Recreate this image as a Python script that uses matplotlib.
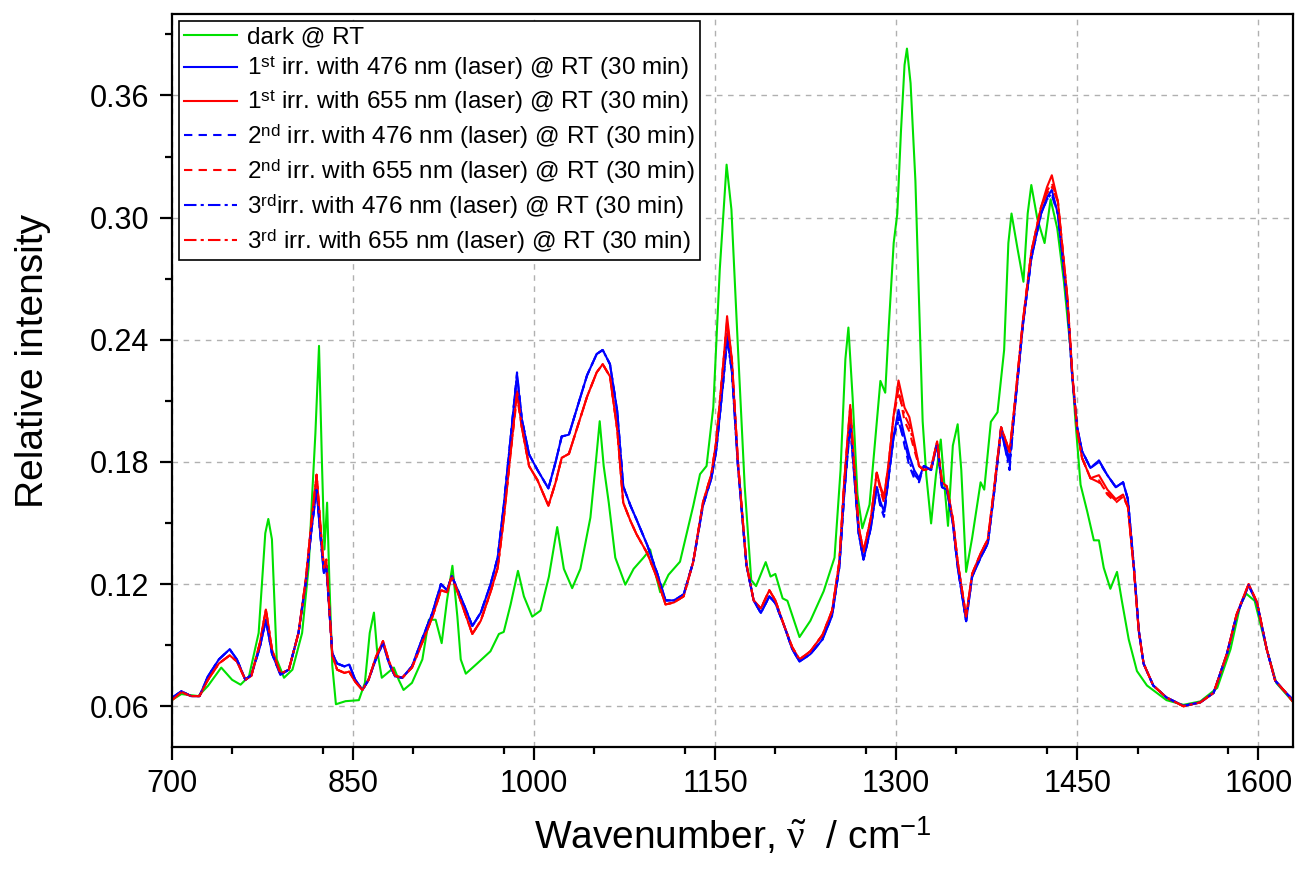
import matplotlib
matplotlib.use("Agg")
import matplotlib.pyplot as plt
from matplotlib.ticker import MultipleLocator

plt.rcParams['font.family'] = ['Liberation Sans', 'DejaVu Sans']
plt.rcParams['mathtext.fontset'] = 'custom'
plt.rcParams['mathtext.rm'] = 'Liberation Sans'
plt.rcParams['mathtext.it'] = 'Liberation Serif'

# wavenumber grid (cm-1) of the dark spectrum
wn_dark = [700, 708, 722, 730, 741, 750, 757, 764, 772, 777.5,
           780, 783, 787, 793, 800, 808, 813.5, 816, 819, 822,
           824.5, 826.5, 828.7, 830.6, 833, 836, 844, 855, 860, 864,
           867.5, 870, 874, 884, 888, 892, 899, 907.6, 913, 918.6,
           923.6, 928, 932.5, 936.6, 939.4, 943.6, 953, 964, 971, 975,
           980.7, 986.8, 991.7, 998.6, 1005.5, 1012.4, 1019.3, 1024.8, 1031.7, 1038.5,
           1046.8, 1051, 1054.5, 1057.8, 1062, 1067.4, 1075.7, 1082.6, 1090.8, 1096.3,
           1100.5, 1104.6, 1111.5, 1121, 1132, 1137.6, 1143, 1148.6, 1154, 1159.6,
           1163.6, 1169, 1174.6, 1180, 1184, 1192, 1196, 1200, 1206, 1210,
           1220, 1229, 1240, 1249, 1254, 1258, 1260.5, 1264, 1268, 1272,
           1278, 1283, 1287, 1291, 1294, 1298, 1301, 1304, 1307, 1309,
           1312, 1316, 1319, 1322, 1325, 1329, 1333, 1337, 1340, 1343,
           1347, 1351, 1354, 1358, 1363, 1370, 1373, 1378.5, 1384, 1389.5,
           1393, 1395.6, 1400.5, 1405.5, 1409, 1412, 1417, 1423, 1428, 1433.5,
           1439, 1444.5, 1448.6, 1452.8, 1458.3, 1463.8, 1468, 1472, 1477.5, 1483,
           1487, 1492.7, 1499.5, 1507.8, 1524, 1538, 1552, 1566, 1577, 1585,
           1590, 1597, 1607, 1615, 1629]
dark = [0.063, 0.066, 0.065, 0.070, 0.079, 0.073, 0.0706, 0.0747, 0.096, 0.145,
        0.152, 0.142, 0.083, 0.074, 0.078, 0.096, 0.129, 0.160, 0.194, 0.237,
        0.178, 0.137, 0.160, 0.121, 0.080, 0.061, 0.0625, 0.063, 0.0715, 0.096,
        0.106, 0.088, 0.074, 0.079, 0.073, 0.068, 0.0715, 0.083, 0.1025, 0.1025,
        0.091, 0.112, 0.129, 0.104, 0.083, 0.076, 0.081, 0.087, 0.0955, 0.0965,
        0.110, 0.1265, 0.114, 0.104, 0.107, 0.1236, 0.148, 0.1275, 0.118, 0.1275,
        0.1527, 0.178, 0.200, 0.178, 0.160, 0.133, 0.1197, 0.1275, 0.133, 0.137,
        0.1255, 0.116, 0.1246, 0.131, 0.1585, 0.174, 0.178, 0.207, 0.275, 0.326,
        0.304, 0.236, 0.168, 0.122, 0.119, 0.1308, 0.1237, 0.125, 0.113, 0.1118,
        0.094, 0.102, 0.1165, 0.133, 0.176, 0.2305, 0.246, 0.2115, 0.164, 0.1474,
        0.159, 0.1925, 0.2198, 0.214, 0.247, 0.2875, 0.302, 0.342, 0.375, 0.383,
        0.366, 0.318, 0.259, 0.200, 0.1735, 0.1498, 0.1735, 0.191, 0.1688, 0.1486,
        0.188, 0.1985, 0.176, 0.126, 0.1427, 0.170, 0.1664, 0.1997, 0.2044, 0.235,
        0.2875, 0.302, 0.285, 0.2685, 0.302, 0.316, 0.2994, 0.2875, 0.309, 0.2947,
        0.2686, 0.2353, 0.1997, 0.1688, 0.1557, 0.1415, 0.1415, 0.128, 0.1177, 0.126,
        0.1118, 0.0928, 0.0773, 0.0702, 0.063, 0.0607, 0.0624, 0.069, 0.088, 0.1094,
        0.1153, 0.1118, 0.088, 0.0714, 0.062]

# wavenumber grid of the irradiated spectra
wn_irr = [700, 708, 716, 723, 730, 739, 748, 754, 761, 766,
          773, 778, 783, 790, 797, 805, 811, 816, 820, 823,
          826, 828, 830, 833, 837, 843, 847, 852, 858, 863,
          869, 875, 880, 885, 891, 899, 908, 916, 923, 928,
          932, 938, 944, 949, 956, 964, 970, 975, 981, 986,
          990, 996, 1003, 1012, 1018, 1023, 1029, 1036, 1044, 1052,
          1057, 1063, 1069, 1074, 1080, 1085, 1094, 1102, 1109, 1116,
          1124, 1132, 1140, 1147, 1151, 1157, 1160, 1164, 1169, 1176,
          1182, 1188, 1195, 1200, 1207, 1214, 1220, 1229, 1239, 1247,
          1253, 1257, 1262, 1265, 1269, 1273, 1279, 1284, 1287, 1290,
          1294, 1298, 1302, 1307, 1311, 1315, 1319, 1323, 1329, 1334,
          1338, 1342, 1347, 1351, 1358, 1363, 1370, 1376, 1381, 1387,
          1394, 1398, 1405, 1412, 1420, 1425, 1429, 1434, 1438, 1442,
          1446, 1450, 1454, 1461, 1468, 1475, 1482, 1488, 1492, 1497,
          1501, 1505, 1513, 1524, 1538, 1552, 1563, 1574, 1582, 1592,
          1599, 1607, 1614, 1623, 1629]

blue_1 = [0.064, 0.0674, 0.065, 0.065, 0.0747, 0.083, 0.088, 0.083, 0.073, 0.0755,
          0.089, 0.1025, 0.086, 0.0755, 0.078, 0.096, 0.1205, 0.148, 0.1664, 0.145,
          0.1255, 0.129, 0.112, 0.086, 0.081, 0.0796, 0.0805, 0.073, 0.068, 0.073,
          0.083, 0.091, 0.081, 0.0747, 0.074, 0.0796, 0.094, 0.106, 0.120, 0.117,
          0.124, 0.1156, 0.107, 0.0994, 0.106, 0.1197, 0.133, 0.1585, 0.1934, 0.2225,
          0.201, 0.1837, 0.176, 0.167, 0.180, 0.1925, 0.1934, 0.207, 0.2225, 0.233,
          0.235, 0.228, 0.205, 0.168, 0.1585, 0.1517, 0.139, 0.1255, 0.112, 0.112,
          0.1149, 0.131, 0.1585, 0.172, 0.1856, 0.2205, 0.243, 0.2245, 0.178, 0.1294,
          0.112, 0.1058, 0.114, 0.1106, 0.100, 0.088, 0.082, 0.0856, 0.0928, 0.1046,
          0.1284, 0.164, 0.200, 0.176, 0.145, 0.132, 0.1474, 0.1676, 0.1605, 0.1557,
          0.1735, 0.1925, 0.2056, 0.1925, 0.183, 0.176, 0.172, 0.178, 0.176, 0.189,
          0.1676, 0.1664, 0.150, 0.1284, 0.1018, 0.1237, 0.133, 0.140, 0.164, 0.197,
          0.1807, 0.2044, 0.247, 0.280, 0.3018, 0.310, 0.3136, 0.3018, 0.280, 0.2567,
          0.221, 0.197, 0.1854, 0.177, 0.1807, 0.1735, 0.1676, 0.170, 0.1617, 0.1284,
          0.0975, 0.0809, 0.0702, 0.0643, 0.0602, 0.0619, 0.0666, 0.0857, 0.1046, 0.1194,
          0.1106, 0.088, 0.0726, 0.0666, 0.063]

red_1 = [0.063, 0.067, 0.065, 0.065, 0.073, 0.081, 0.085, 0.082, 0.073, 0.075,
         0.091, 0.1075, 0.088, 0.076, 0.078, 0.096, 0.122, 0.152, 0.1737, 0.150,
         0.128, 0.132, 0.113, 0.085, 0.078, 0.0764, 0.077, 0.072, 0.068, 0.073,
         0.084, 0.092, 0.082, 0.075, 0.074, 0.079, 0.092, 0.104, 0.117, 0.116,
         0.124, 0.114, 0.104, 0.0955, 0.102, 0.116, 0.128, 0.152, 0.186, 0.2147,
         0.197, 0.178, 0.171, 0.1585, 0.170, 0.182, 0.184, 0.197, 0.212, 0.224,
         0.228, 0.222, 0.196, 0.160, 0.151, 0.1445, 0.135, 0.123, 0.110, 0.111,
         0.114, 0.131, 0.160, 0.174, 0.190, 0.229, 0.2516, 0.230, 0.180, 0.130,
         0.112, 0.108, 0.117, 0.112, 0.100, 0.089, 0.083, 0.087, 0.095, 0.107,
         0.131, 0.170, 0.208, 0.180, 0.148, 0.136, 0.152, 0.1747, 0.168, 0.163,
         0.180, 0.203, 0.220, 0.2067, 0.202, 0.190, 0.178, 0.176, 0.177, 0.190,
         0.170, 0.168, 0.152, 0.131, 0.104, 0.125, 0.135, 0.142, 0.166, 0.197,
         0.185, 0.207, 0.249, 0.283, 0.305, 0.315, 0.3208, 0.308, 0.284, 0.260,
         0.223, 0.196, 0.182, 0.172, 0.1735, 0.1664, 0.1617, 0.164, 0.158, 0.127,
         0.097, 0.081, 0.0702, 0.0643, 0.0600, 0.0619, 0.0666, 0.0857, 0.105, 0.120,
         0.111, 0.088, 0.0726, 0.0666, 0.062]

blue_2 = [0.064, 0.0674, 0.065, 0.065, 0.0747, 0.083, 0.088, 0.083, 0.073, 0.0755,
          0.089, 0.1025, 0.086, 0.0755, 0.078, 0.096, 0.1205, 0.148, 0.1664, 0.145,
          0.1255, 0.129, 0.112, 0.086, 0.081, 0.0796, 0.0805, 0.073, 0.068, 0.073,
          0.083, 0.091, 0.081, 0.0747, 0.074, 0.0796, 0.094, 0.106, 0.120, 0.117,
          0.124, 0.1156, 0.107, 0.0994, 0.106, 0.1197, 0.133, 0.1585, 0.1934, 0.224,
          0.201, 0.1837, 0.176, 0.167, 0.180, 0.1925, 0.1934, 0.207, 0.2225, 0.233,
          0.235, 0.228, 0.205, 0.168, 0.1585, 0.1517, 0.139, 0.1255, 0.112, 0.112,
          0.1149, 0.131, 0.1585, 0.172, 0.1856, 0.2205, 0.241, 0.2245, 0.178, 0.1294,
          0.112, 0.1058, 0.114, 0.1106, 0.100, 0.088, 0.082, 0.0856, 0.0928, 0.1046,
          0.1284, 0.164, 0.198, 0.176, 0.145, 0.132, 0.1474, 0.1676, 0.158, 0.153,
          0.1735, 0.1925, 0.202, 0.188, 0.178, 0.172, 0.170, 0.178, 0.176, 0.189,
          0.1676, 0.1664, 0.150, 0.1284, 0.1018, 0.1237, 0.133, 0.140, 0.164, 0.195,
          0.178, 0.2044, 0.247, 0.280, 0.3018, 0.309, 0.311, 0.3018, 0.280, 0.2567,
          0.221, 0.197, 0.1854, 0.177, 0.180, 0.1735, 0.1676, 0.170, 0.1617, 0.1284,
          0.0975, 0.0809, 0.0702, 0.0643, 0.0602, 0.0619, 0.0666, 0.0857, 0.1046, 0.1194,
          0.1106, 0.088, 0.0726, 0.0666, 0.063]

red_2 = [0.063, 0.067, 0.065, 0.065, 0.073, 0.081, 0.085, 0.082, 0.073, 0.075,
         0.091, 0.1075, 0.088, 0.076, 0.078, 0.096, 0.122, 0.152, 0.1737, 0.150,
         0.128, 0.132, 0.113, 0.085, 0.078, 0.0764, 0.077, 0.072, 0.068, 0.073,
         0.084, 0.092, 0.082, 0.075, 0.074, 0.079, 0.092, 0.104, 0.117, 0.116,
         0.124, 0.114, 0.104, 0.0955, 0.102, 0.116, 0.128, 0.152, 0.186, 0.212,
         0.197, 0.178, 0.171, 0.1585, 0.170, 0.182, 0.184, 0.197, 0.212, 0.224,
         0.228, 0.222, 0.196, 0.160, 0.151, 0.1445, 0.135, 0.123, 0.110, 0.111,
         0.114, 0.131, 0.160, 0.174, 0.190, 0.229, 0.249, 0.230, 0.180, 0.130,
         0.112, 0.108, 0.117, 0.112, 0.100, 0.089, 0.083, 0.087, 0.095, 0.107,
         0.131, 0.170, 0.206, 0.180, 0.148, 0.136, 0.152, 0.1747, 0.166, 0.160,
         0.180, 0.203, 0.216, 0.200, 0.195, 0.186, 0.178, 0.176, 0.177, 0.190,
         0.170, 0.168, 0.152, 0.131, 0.104, 0.125, 0.135, 0.142, 0.166, 0.197,
         0.185, 0.207, 0.249, 0.283, 0.305, 0.313, 0.317, 0.308, 0.284, 0.260,
         0.223, 0.196, 0.182, 0.172, 0.171, 0.164, 0.160, 0.163, 0.158, 0.127,
         0.097, 0.081, 0.0702, 0.0643, 0.0600, 0.0619, 0.0666, 0.0857, 0.105, 0.120,
         0.111, 0.088, 0.0726, 0.0666, 0.062]

blue_3 = [0.064, 0.0674, 0.065, 0.065, 0.0747, 0.083, 0.088, 0.083, 0.073, 0.0755,
          0.089, 0.1025, 0.086, 0.0755, 0.078, 0.096, 0.1205, 0.148, 0.1664, 0.145,
          0.1255, 0.129, 0.112, 0.086, 0.081, 0.0796, 0.0805, 0.073, 0.068, 0.073,
          0.083, 0.091, 0.081, 0.0747, 0.074, 0.0796, 0.094, 0.106, 0.120, 0.117,
          0.124, 0.1156, 0.107, 0.0994, 0.106, 0.1197, 0.133, 0.1585, 0.1934, 0.223,
          0.201, 0.1837, 0.176, 0.167, 0.180, 0.1925, 0.1934, 0.207, 0.2225, 0.233,
          0.235, 0.228, 0.205, 0.168, 0.1585, 0.1517, 0.139, 0.1255, 0.112, 0.112,
          0.1149, 0.131, 0.1585, 0.172, 0.1856, 0.2205, 0.240, 0.2245, 0.178, 0.1294,
          0.112, 0.1058, 0.114, 0.1106, 0.100, 0.088, 0.082, 0.0856, 0.0928, 0.1046,
          0.1284, 0.164, 0.199, 0.176, 0.145, 0.132, 0.1474, 0.1676, 0.159, 0.154,
          0.1735, 0.1925, 0.200, 0.190, 0.180, 0.174, 0.171, 0.178, 0.176, 0.189,
          0.1676, 0.1664, 0.150, 0.1284, 0.1018, 0.1237, 0.133, 0.140, 0.164, 0.196,
          0.176, 0.2044, 0.247, 0.280, 0.3018, 0.309, 0.312, 0.3018, 0.280, 0.2567,
          0.221, 0.197, 0.1854, 0.177, 0.1807, 0.1735, 0.1676, 0.170, 0.1617, 0.1284,
          0.0975, 0.0809, 0.0702, 0.0643, 0.0602, 0.0619, 0.0666, 0.0857, 0.1046, 0.1194,
          0.1106, 0.088, 0.0726, 0.0666, 0.063]

red_3 = [0.063, 0.067, 0.065, 0.065, 0.073, 0.081, 0.085, 0.082, 0.073, 0.075,
         0.091, 0.1075, 0.088, 0.076, 0.078, 0.096, 0.122, 0.152, 0.1737, 0.150,
         0.128, 0.132, 0.113, 0.085, 0.078, 0.0764, 0.077, 0.072, 0.068, 0.073,
         0.084, 0.092, 0.082, 0.075, 0.074, 0.079, 0.092, 0.104, 0.117, 0.116,
         0.124, 0.114, 0.104, 0.0955, 0.102, 0.116, 0.128, 0.152, 0.186, 0.2147,
         0.197, 0.178, 0.171, 0.1585, 0.170, 0.182, 0.184, 0.197, 0.212, 0.224,
         0.228, 0.222, 0.196, 0.160, 0.151, 0.1445, 0.135, 0.123, 0.110, 0.111,
         0.114, 0.131, 0.160, 0.174, 0.190, 0.229, 0.247, 0.230, 0.180, 0.130,
         0.112, 0.108, 0.117, 0.112, 0.100, 0.089, 0.083, 0.087, 0.095, 0.107,
         0.131, 0.170, 0.207, 0.180, 0.148, 0.136, 0.152, 0.1747, 0.167, 0.162,
         0.180, 0.203, 0.214, 0.203, 0.198, 0.188, 0.178, 0.176, 0.177, 0.190,
         0.170, 0.168, 0.152, 0.131, 0.104, 0.125, 0.135, 0.142, 0.166, 0.197,
         0.185, 0.207, 0.249, 0.283, 0.305, 0.312, 0.315, 0.308, 0.284, 0.260,
         0.223, 0.196, 0.182, 0.172, 0.170, 0.165, 0.161, 0.163, 0.158, 0.127,
         0.097, 0.081, 0.0702, 0.0643, 0.0600, 0.0619, 0.0666, 0.0857, 0.105, 0.120,
         0.111, 0.088, 0.0726, 0.0666, 0.062]

labels = ['dark @ RT',
          r'1$^{\mathrm{st}}$ irr. with 476 nm (laser) @ RT (30 min)',
          r'1$^{\mathrm{st}}$ irr. with 655 nm (laser) @ RT (30 min)',
          r'2$^{\mathrm{nd}}$ irr. with 476 nm (laser) @ RT (30 min)',
          r'2$^{\mathrm{nd}}$ irr. with 655 nm (laser) @ RT (30 min)',
          r'3$^{\mathrm{rd}}$irr. with 476 nm (laser) @ RT (30 min)',
          r'3$^{\mathrm{rd}}$ irr. with 655 nm (laser) @ RT (30 min)']

xticks = [700, 850, 1000, 1150, 1300, 1450, 1600]
yticks = [0.06, 0.12, 0.18, 0.24, 0.30, 0.36]

fig = plt.figure(figsize=(12.99, 8.69), dpi=100)
ax = fig.add_axes([0.1322, 0.1404, 0.8634, 0.8435])

lw = 1.5
ax.plot(wn_dark, dark, color='#00e000', lw=lw, label=labels[0])
ax.plot(wn_irr, blue_1, color='#0000ff', lw=lw, label=labels[1])
ax.plot(wn_irr, red_1, color='#ff0000', lw=lw, label=labels[2])
ax.plot(wn_irr, blue_2, color='#0000ff', lw=lw, ls=(0, (4, 3)), label=labels[3])
ax.plot(wn_irr, red_2, color='#ff0000', lw=lw, ls=(0, (4, 3)), label=labels[4])
ax.plot(wn_irr, blue_3, color='#0000ff', lw=lw, ls=(0, (6, 2, 1.5, 2)), label=labels[5])
ax.plot(wn_irr, red_3, color='#ff0000', lw=lw, ls=(0, (6, 2, 1.5, 2)), label=labels[6])

ax.set_xlim(700, 1629)
ax.set_ylim(0.04, 0.40)
ax.set_xticks(xticks)
ax.set_xticklabels([str(t) for t in xticks])
ax.set_yticks(yticks)
ax.set_yticklabels(['%.2f' % t for t in yticks])
ax.xaxis.set_minor_locator(MultipleLocator(75))
ax.yaxis.set_minor_locator(MultipleLocator(0.03))
ax.tick_params(which='major', direction='out', length=9, width=1.6, labelsize=22, pad=7)
ax.tick_params(which='minor', direction='out', length=5, width=1.6)
ax.tick_params(top=False, right=False)
for s in ax.spines.values():
    s.set_linewidth(1.6)

ax.grid(True, which='major', color='#b0b0b0', ls=(0, (4, 4)), lw=1)
ax.set_axisbelow(True)

ax.set_xlabel(r'Wavenumber, $\tilde{\nu}$  / cm$^{-1}$', fontsize=28, labelpad=12)
ax.set_ylabel('Relative intensity', fontsize=28)
ax.yaxis.set_label_coords(-0.108, 0.527)

leg = ax.legend(loc='upper left', fontsize=17.5, frameon=True, fancybox=False,
                edgecolor='black', framealpha=1, borderaxespad=0.3, borderpad=0.2,
                labelspacing=0.25, handlelength=2.2, handletextpad=0.4)
leg.get_frame().set_linewidth(1.2)

fig.savefig('out.png', dpi=100)
